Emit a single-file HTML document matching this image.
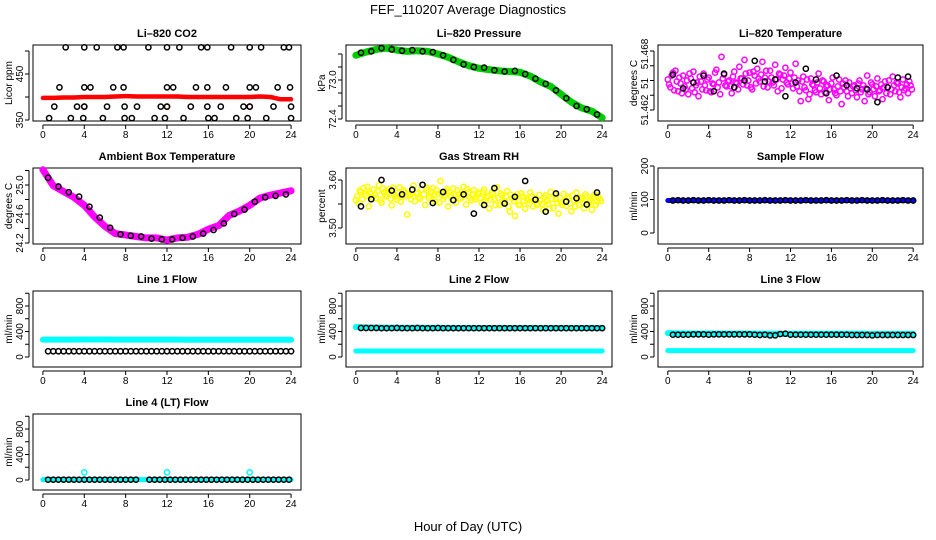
<!DOCTYPE html>
<html><head><meta charset="utf-8">
<style>
html,body{margin:0;padding:0;background:#fff;}
svg{display:block;font-family:"Liberation Sans",sans-serif;}
</style></head>
<body>
<svg id="chart" width="936" height="540" viewBox="0 0 936 540">
<text x="468" y="14" font-size="13" text-anchor="middle">FEF_110207  Average Diagnostics</text>
<text x="468" y="531" font-size="13" text-anchor="middle">Hour of Day (UTC)</text>
</svg>
<script>
// ---------- data ----------
const hoursHourly = [0,1,2,3,4,5,6,7,8,9,10,11,12,13,14,15,16,17,18,19,20,21,22,23,24];
const hoursHalf = [0.5,1,1.5,2,2.5,3,3.5,4,4.5,5,5.5,6,6.5,7,7.5,8,8.5,9,9.5,10,10.5,11,11.5,12,12.5,13,13.5,14,14.5,15,15.5,16,16.5,17,17.5,18,18.5,19,19.5,20,20.5,21,21.5,22,22.5,23,23.5,24];
const hoursBlack = [0.5,1.5,2.5,3.5,4.5,5.5,6.5,7.5,8.5,9.5,10.5,11.5,12.5,13.5,14.5,15.5,16.5,17.5,18.5,19.5,20.5,21.5,22.5,23.5];

// Li-820 CO2
const co2Red = [398,398,399,399,400,400,400,401,402,401,401,401,401,401,400,400,400,400,400,400,400,401,400,395,395];
const co2TopTimes = [2.2,4.0,5.2,7.2,7.8,10.2,12.0,13.2,15.3,15.9,18.2,20.0,21.1,23.3,23.8];
const co2TopVal = 508;
const co2MidTimes = [1.6,4.0,4.6,6.8,7.8,12.0,12.6,14.8,15.9,17.7,20.0,20.6,22.7,23.9];
const co2MidVal = 421;
const co2LowTimes = [1.1,3.3,4.0,6.2,7.9,9.1,11.4,12.0,14.3,15.9,17.2,19.4,20.0,22.3,24.0];
const co2LowVal = 379;
const co2BotTimes = [0.6,2.7,3.9,5.8,7.9,8.6,10.8,11.8,13.6,16.0,16.6,18.7,19.8,21.6,24.0];
const co2BotVal = 354;
const co2RedDotTimes = [4.0,12.0,20.0];

// Li-820 Pressure
const pressGreen = [73.38,73.43,73.47,73.49,73.46,73.44,73.45,73.44,73.40,73.35,73.28,73.22,73.18,73.16,73.14,73.13,73.12,73.06,72.97,72.90,72.78,72.66,72.57,72.52,72.42];
const pressBlack = [73.42,73.44,73.49,73.47,73.45,73.46,73.44,73.43,73.38,73.31,73.24,73.20,73.19,73.15,73.13,73.14,73.09,73.02,72.94,72.84,72.72,72.60,72.55,72.47];

// Li-820 Temperature
const tempMagenta = [51.4651,51.4643,51.4658,51.4660,51.4639,51.4647,51.4655,51.4641,51.4636,51.4652,51.4659,51.4645,51.4634,51.4649,51.4657,51.4640,51.4653,51.4638,51.4646,51.4661,51.4648,51.4674,51.4656,51.4644,
51.4650,51.4637,51.4659,51.4647,51.4664,51.4652,51.4671,51.4645,51.4658,51.4641,51.4655,51.4662,51.4649,51.4669,51.4653,51.4643,51.4660,51.4648,51.4666,51.4639,51.4656,51.4651,51.4663,51.4646,
51.4658,51.4642,51.4667,51.4650,51.4629,51.4654,51.4640,51.4631,51.4652,51.4645,51.4638,51.4657,51.4636,51.4649,51.4644,51.4630,51.4647,51.4641,51.4635,51.4651,51.4626,51.4643,51.4639,51.4648,
51.4637,51.4645,51.4633,51.4650,51.4641,51.4629,51.4655,51.4638,51.4646,51.4634,51.4652,51.4640,51.4631,51.4649,51.4643,51.4636,51.4654,51.4639,51.4647,51.4633,51.4651,51.4642,51.4637,51.4645];
const tempMagenta2 = [51.4646,51.4655,51.4640,51.4649,51.4653,51.4637,51.4644,51.4650,51.4657,51.4642,51.4638,51.4648,51.4654,51.4641,51.4645,51.4651,51.4639,51.4647,51.4658,51.4643,51.4636,51.4652,51.4645,51.4649,
51.4644,51.4654,51.4648,51.4641,51.4652,51.4646,51.4657,51.4650,51.4643,51.4659,51.4647,51.4652,51.4656,51.4644,51.4660,51.4649,51.4653,51.4645,51.4651,51.4657,51.4642,51.4655,51.4648,51.4652,
51.4647,51.4653,51.4644,51.4639,51.4649,51.4643,51.4651,51.4636,51.4646,51.4640,51.4648,51.4642,51.4650,51.4638,51.4645,51.4641,51.4653,51.4637,51.4644,51.4639,51.4647,51.4650,51.4634,51.4642,
51.4644,51.4640,51.4647,51.4638,51.4645,51.4642,51.4636,51.4648,51.4641,51.4644,51.4639,51.4646,51.4643,51.4637,51.4650,51.4641,51.4645,51.4648,51.4638,51.4643,51.4640,51.4646,51.4649,51.4641];
const tempBlack = [51.4656,51.4642,51.4648,51.4655,51.4639,51.4657,51.4643,51.4650,51.4670,51.4649,51.4651,51.4634,51.4648,51.4662,51.4651,51.4637,51.4655,51.4645,51.4642,51.4641,51.4628,51.4643,51.4653,51.4654];
const tempTimes = [];
for (let i = 0; i < 96; i++) tempTimes.push(i * 0.25);
const tempTimes2 = [];
for (let i = 0; i < 96; i++) tempTimes2.push(i * 0.25 + 0.125);

// Ambient Box Temperature
const ambMagenta = [25.21,24.99,24.91,24.83,24.72,24.56,24.43,24.33,24.31,24.29,24.27,24.27,24.24,24.27,24.28,24.32,24.39,24.44,24.58,24.64,24.72,24.82,24.86,24.89,24.92];
const ambBlack = [25.10,24.98,24.90,24.84,24.70,24.55,24.41,24.32,24.30,24.29,24.26,24.25,24.25,24.27,24.29,24.33,24.38,24.47,24.60,24.66,24.77,24.83,24.85,24.87];

// Gas Stream RH
const rhYellow = [3.558,3.552,3.575,3.583,3.567,3.545,3.571,3.580,3.562,3.589,3.553,3.574,3.566,3.581,3.547,3.570,3.559,3.585,3.564,3.576,3.528,3.568,3.580,3.556,
3.573,3.561,3.590,3.548,3.579,3.566,3.583,3.555,3.571,3.598,3.560,3.577,3.545,3.568,3.582,3.553,3.570,3.562,3.586,3.549,3.575,3.558,3.579,3.566,
3.571,3.552,3.580,3.563,3.541,3.574,3.560,3.585,3.548,3.568,3.556,3.577,3.534,3.562,3.525,3.570,3.549,3.566,3.540,3.558,3.574,3.545,3.563,3.551,
3.557,3.538,3.568,3.550,3.575,3.542,3.560,3.530,3.553,3.571,3.546,3.562,3.535,3.557,3.574,3.548,3.560,3.541,3.566,3.553,3.538,3.570,3.555,3.561];
const rhYellow2 = [3.566,3.578,3.560,3.571,3.586,3.574,3.563,3.569,3.577,3.558,3.582,3.568,3.575,3.561,3.584,3.566,3.573,3.555,3.579,3.568,3.571,3.560,3.588,3.572,
3.564,3.580,3.570,3.584,3.562,3.575,3.569,3.579,3.553,3.572,3.566,3.581,3.575,3.559,3.570,3.578,3.563,3.574,3.568,3.581,3.563,3.570,3.560,3.574,
3.563,3.575,3.556,3.567,3.559,3.571,3.548,3.563,3.572,3.553,3.566,3.545,3.569,3.556,3.563,3.548,3.572,3.557,3.562,3.551,3.566,3.559,3.548,3.569,
3.550,3.563,3.557,3.541,3.561,3.569,3.552,3.563,3.548,3.556,3.565,3.551,3.568,3.545,3.559,3.563,3.552,3.570,3.549,3.558,3.564,3.548,3.566,3.556];
const rhBlack = [3.545,3.560,3.600,3.578,3.570,3.580,3.590,3.552,3.575,3.558,3.570,3.530,3.548,3.583,3.551,3.565,3.598,3.559,3.534,3.572,3.555,3.562,3.549,3.574];

// Sample Flow
const sampleBlue = [97,97,97,97,97,97,97,97,97,97,97,97,97,97,97,97,97,97,97,97,97,97,97,97,97];
const sampleBlack = [97,98,97,97,98,97,97,98,97,97,97,98,97,97,98,97,97,97,98,97,97,97,98,97,97,97,98,97,97,97,98,97,97,97,98,97,97,98,97,97,97,98,97,97,97,98,97,97];

// Line flows
const line1Cyan = [272,272,273,273,274,274,274,273,273,273,272,272,272,272,271,271,271,271,271,271,271,270,270,270,270];
const line1Black = [90,90,90,90,90,90,90,90,90,90,90,90,90,90,90,90,90,90,90,90,90,90,90,90,90,90,90,90,90,90,90,90,90,90,90,90,90,90,90,90,90,90,90,90,90,90,90,90];
const line2CyanHi = [470,465,460,460,458,458,458,457,457,456,455,455,455,455,455,455,455,455,455,455,455,455,455,455,455];
const line2CyanLo = [95,95,95,95,95,95,95,95,95,95,95,95,95,95,95,95,95,95,95,95,95,95,95,95,95];
const line2Black = [455,455,455,455,452,452,452,455,452,452,452,455,452,452,452,455,452,452,452,452,452,452,452,452,452,452,452,452,452,452,452,452,452,452,452,452,452,452,452,452,452,452,452,452,452,452,452,452];
const line3CyanHi = [375,370,368,368,368,368,368,368,368,365,365,365,365,365,365,365,365,365,365,365,360,362,362,362,362];
const line3CyanLo = [100,100,100,100,100,100,100,100,100,100,100,100,100,100,100,100,100,100,100,100,100,100,100,100,100];
const line3Black = [350,350,350,350,355,355,355,350,355,355,355,355,355,355,355,355,350,345,350,340,340,360,365,350,350,350,350,350,350,350,350,350,350,350,350,345,345,345,345,340,345,345,345,345,345,345,345,345];
const line4Cyan = [5,5,5,5,5,5,5,5,5,5,5,5,5,5,5,5,5,5,5,5,5,5,5,5,5];
const line4Spikes = [120,120,120];
const line4SpikeTimes = [4,12,20];
const line4BlackTimes = [0.5,1,1.5,2,2.5,3,3.5,4,4.5,5,5.5,6,6.5,7,7.5,8,8.5,9,10.3,10.8,11.3,11.8,12.3,12.8,13.3,13.8,14.3,14.8,15.3,15.8,16.3,16.8,17.3,17.8,18.3,18.8,19.3,19.8,20.3,20.8,21.3,21.8,22.3,22.8,23.3,23.8];
const line4Black = [5,5,5,5,5,5,5,5,5,5,5,5,5,5,5,5,5,5,5,5,5,5,5,5,5,5,5,5,5,5,5,5,5,5,5,5,5,5,5,5,5,5,5,5,5,5,5,5];

const xTicks = [0,4,8,12,16,20,24];

// ---------- drawing ----------
const NS = 'http://www.w3.org/2000/svg';
const svg = document.getElementById('chart');
const colLeft = [33, 346, 658];
const colWidth = [268, 266, 265];
const rowTop = [45, 168, 291, 414];
const H = 76;

function mk(tag, parent) { const e = document.createElementNS(NS, tag); parent.appendChild(e); return e; }

function makePanel(cfg) {
  const g = mk('g', svg);
  
  
  const L = colLeft[cfg.col], W = colWidth[cfg.col], T = rowTop[cfg.row], B = T + H;
  const x = t => L + W * (t + 0.96) / 25.92;
  const y = v => cfg.p0 + (v - cfg.v0) * (cfg.p1 - cfg.p0) / (cfg.v1 - cfg.v0);
  const box = mk('rect', g);
  box.setAttribute('x', L); box.setAttribute('y', T); box.setAttribute('width', W); box.setAttribute('height', H);
  box.setAttribute('fill', 'none'); box.setAttribute('stroke', '#000'); box.setAttribute('stroke-width', '1');
  
  
  const title = mk('text', g);
  title.textContent = cfg.title;
  title.setAttribute('x', L + W / 2); title.setAttribute('y', T - 8);
  title.setAttribute('font-size', '11'); title.setAttribute('font-weight', 'bold'); title.setAttribute('text-anchor', 'middle');
  
  
  const yl = mk('text', g);
  yl.textContent = cfg.ylabel;
  const ylx = L - 21, yly = T + H / 2;
  yl.setAttribute('x', ylx); yl.setAttribute('y', yly);
  yl.setAttribute('transform', `rotate(-90 ${ylx} ${yly})`);
  yl.setAttribute('font-size', '10'); yl.setAttribute('text-anchor', 'middle');
  
  
  const xa = mk('path', g);
  let d = `M${x(0)},${B + 4}H${x(24)}`;
  xTicks.forEach(t => { d += `M${x(t)},${B + 4}v4`; });
  xa.setAttribute('d', d); xa.setAttribute('stroke', '#000'); xa.setAttribute('fill', 'none');
  
  
  xTicks.forEach(t => {
    const tl = mk('text', g);
    tl.textContent = t;
    tl.setAttribute('x', x(t)); tl.setAttribute('y', B + 17);
    tl.setAttribute('font-size', '10'); tl.setAttribute('text-anchor', 'middle');
    
    
  });
  const ya = mk('path', g);
  let dy = `M${L - 4},${y(cfg.ticks[0])}V${y(cfg.ticks[cfg.ticks.length - 1])}`;
  cfg.ticks.forEach(v => { dy += `M${L - 4},${y(v)}h-4`; });
  ya.setAttribute('d', dy); ya.setAttribute('stroke', '#000'); ya.setAttribute('fill', 'none');
  
  
  cfg.labels.forEach(lb => {
    const tl = mk('text', g);
    tl.textContent = lb.text;
    const lx = L - 10, ly = y(lb.v);
    tl.setAttribute('x', lx); tl.setAttribute('y', ly);
    tl.setAttribute('transform', `rotate(-90 ${lx} ${ly})`);
    tl.setAttribute('font-size', '10'); tl.setAttribute('text-anchor', 'middle');
    
    
  });
  const dataG = mk('g', g);
  
  
  return {g: dataG, x, y};
}

function band(p, times, vals, color, w, name) {
  const pl = mk('polyline', p.g);
  pl.setAttribute('points', times.map((t, i) => `${p.x(t)},${p.y(vals[i])}`).join(' '));
  pl.setAttribute('fill', 'none'); pl.setAttribute('stroke', color); pl.setAttribute('stroke-width', w);
  pl.setAttribute('stroke-linejoin', 'round'); pl.setAttribute('stroke-linecap', 'round');
  
  
}
function dots(p, times, vals, color, name) {
  times.forEach((t, i) => {
    const c = mk('circle', p.g);
    c.setAttribute('cx', p.x(t)); c.setAttribute('cy', p.y(vals[i]));
    c.setAttribute('r', 2.6); c.setAttribute('fill', 'none'); c.setAttribute('stroke', color); c.setAttribute('stroke-width', 1.5);
    
    
  });
}
const fill = (n, v) => Array.from({length: n}, () => v);
const flowTicks = [0,200,400,600,800,1000];
const flowLabels = [{v:0,text:'0'},{v:400,text:'400'},{v:800,text:'800'}];

let p = makePanel({name:'co2-panel', title:'Li\u2013820 CO2', ylabel:'Licor ppm', col:0, row:0, v0:350, p0:120, v1:450, p1:74, ticks:[350,400,450,500], labels:[{v:350,text:'350'},{v:450,text:'450'}]});
band(p, hoursHourly, co2Red, '#ff0000', 4.5, 'co2-average-line');
dots(p, co2RedDotTimes, fill(3, co2LowVal), '#ff0000', 'co2-red-point');
dots(p, co2TopTimes, fill(co2TopTimes.length, co2TopVal), '#000', 'co2-point');
dots(p, co2MidTimes, fill(co2MidTimes.length, co2MidVal), '#000', 'co2-point');
dots(p, co2LowTimes, fill(co2LowTimes.length, co2LowVal), '#000', 'co2-point');
dots(p, co2BotTimes, fill(co2BotTimes.length, co2BotVal), '#000', 'co2-point');

p = makePanel({name:'pressure-panel', title:'Li\u2013820 Pressure', ylabel:'kPa', col:1, row:0, v0:72.4, p0:119, v1:73.0, p1:80, ticks:[72.4,72.6,72.8,73.0,73.2,73.4], labels:[{v:72.4,text:'72.4'},{v:73.0,text:'73.0'}]});
band(p, hoursHourly, pressGreen, '#00cc00', 7, 'pressure-band');
dots(p, hoursBlack, pressBlack, '#000', 'pressure-point');

p = makePanel({name:'li820-temperature-panel', title:'Li\u2013820 Temperature', ylabel:'degrees C', col:2, row:0, v0:51.462, p0:110, v1:51.468, p1:51, ticks:[51.462,51.4635,51.465,51.4665,51.468], labels:[{v:51.462,text:'51.462'},{v:51.4647,text:'51'},{v:51.4677,text:'51.468'}]});
dots(p, tempTimes, tempMagenta, '#ff00ff', 'temperature-point');
dots(p, tempTimes2, tempMagenta2, '#ff00ff', 'temperature-point');
dots(p, hoursBlack, tempBlack, '#000', 'temperature-avg-point');

p = makePanel({name:'ambient-temperature-panel', title:'Ambient Box Temperature', ylabel:'degrees C', col:0, row:1, v0:24.2, p0:243, v1:25.0, p1:185, ticks:[24.2,24.4,24.6,24.8,25.0,25.2], labels:[{v:24.2,text:'24.2'},{v:24.6,text:'24.6'},{v:25.0,text:'25.0'}]});
band(p, hoursHourly, ambMagenta, '#ff00ff', 7, 'ambient-band');
dots(p, hoursBlack, ambBlack, '#000', 'ambient-point');

p = makePanel({name:'rh-panel', title:'Gas Stream RH', ylabel:'percent', col:1, row:1, v0:3.50, p0:228, v1:3.60, p1:180, ticks:[3.50,3.55,3.60], labels:[{v:3.50,text:'3.50'},{v:3.60,text:'3.60'}]});
dots(p, tempTimes, rhYellow, '#ffff00', 'rh-point');
dots(p, tempTimes2, rhYellow2, '#ffff00', 'rh-point');
dots(p, hoursBlack, rhBlack, '#000', 'rh-avg-point');

p = makePanel({name:'sample-flow-panel', title:'Sample Flow', ylabel:'ml/min', col:2, row:1, v0:0, p0:233, v1:200, p1:166, ticks:[0,100,200], labels:[{v:0,text:'0'},{v:100,text:'100'},{v:200,text:'200'}]});
band(p, hoursHourly, sampleBlue, '#0000ff', 5, 'sample-flow-band');
dots(p, hoursHalf, sampleBlack, '#000', 'sample-flow-point');

p = makePanel({name:'line1-flow-panel', title:'Line 1 Flow', ylabel:'ml/min', col:0, row:2, v0:0, p0:357, v1:800, p1:306, ticks:flowTicks, labels:flowLabels});
band(p, hoursHourly, line1Cyan, '#00ffff', 6, 'line1-cyan-band');
dots(p, hoursHalf, line1Black, '#000', 'line1-point');

p = makePanel({name:'line2-flow-panel', title:'Line 2 Flow', ylabel:'ml/min', col:1, row:2, v0:0, p0:357, v1:800, p1:306, ticks:flowTicks, labels:flowLabels});
band(p, hoursHourly, line2CyanHi, '#00ffff', 6, 'line2-cyan-upper');
band(p, hoursHourly, line2CyanLo, '#00ffff', 5, 'line2-cyan-lower');
dots(p, hoursHalf, line2Black, '#000', 'line2-point');

p = makePanel({name:'line3-flow-panel', title:'Line 3 Flow', ylabel:'ml/min', col:2, row:2, v0:0, p0:357, v1:800, p1:306, ticks:flowTicks, labels:flowLabels});
band(p, hoursHourly, line3CyanHi, '#00ffff', 6, 'line3-cyan-upper');
band(p, hoursHourly, line3CyanLo, '#00ffff', 5, 'line3-cyan-lower');
dots(p, hoursHalf, line3Black, '#000', 'line3-point');

p = makePanel({name:'line4-flow-panel', title:'Line 4 (LT) Flow', ylabel:'ml/min', col:0, row:3, v0:0, p0:480, v1:800, p1:429, ticks:flowTicks, labels:flowLabels});
band(p, hoursHourly, line4Cyan, '#00ffff', 5, 'line4-cyan-band');
dots(p, line4SpikeTimes, line4Spikes, '#00ffff', 'line4-spike');
dots(p, line4BlackTimes, line4Black, '#000', 'line4-point');
</script>
</body></html>
